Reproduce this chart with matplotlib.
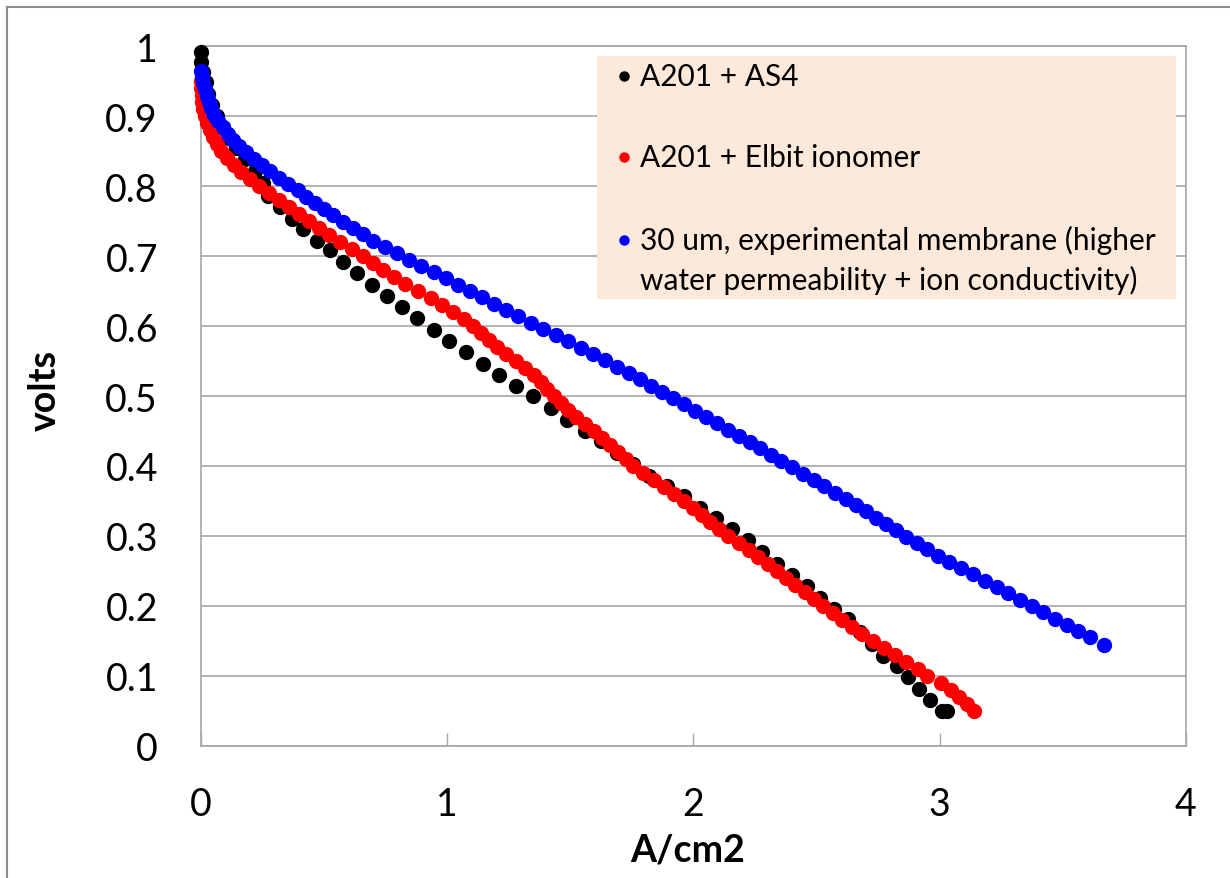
import matplotlib
matplotlib.use('Agg')
import matplotlib.pyplot as plt
from matplotlib.lines import Line2D
from matplotlib.patches import Rectangle

plt.rcParams['font.family'] = ['Lato', 'DejaVu Sans']

# polarisation curves: current density (A/cm2) and cell voltage (V)
as4_i = [0.000, 0.000, 0.010, 0.020, 0.030, 0.045, 0.065, 0.088, 0.113, 0.143,
         0.179, 0.220, 0.250, 0.273, 0.321, 0.368, 0.416, 0.470, 0.524, 0.578,
         0.632, 0.693, 0.754, 0.818, 0.879, 0.946, 1.008, 1.076, 1.144, 1.211,
         1.279, 1.347, 1.420, 1.488, 1.559, 1.623, 1.688, 1.756, 1.821, 1.891,
         1.961, 2.026, 2.093, 2.155, 2.220, 2.280, 2.340, 2.401, 2.460, 2.514,
         2.571, 2.629, 2.676, 2.724, 2.771, 2.825, 2.872, 2.917, 2.960, 3.008,
         3.028]
as4_v = [0.992, 0.977, 0.963, 0.948, 0.932, 0.916, 0.900, 0.885, 0.869, 0.854,
         0.839, 0.822, 0.804, 0.786, 0.770, 0.753, 0.738, 0.722, 0.708, 0.691,
         0.676, 0.659, 0.643, 0.627, 0.612, 0.594, 0.578, 0.563, 0.546, 0.530,
         0.515, 0.500, 0.483, 0.466, 0.450, 0.436, 0.419, 0.403, 0.386, 0.371,
         0.357, 0.340, 0.325, 0.310, 0.294, 0.277, 0.260, 0.244, 0.228, 0.212,
         0.196, 0.181, 0.163, 0.146, 0.129, 0.114, 0.098, 0.082, 0.066, 0.050,
         0.050]

elbit_v = [0.95, 0.94, 0.93, 0.92, 0.91, 0.90, 0.89, 0.88, 0.87, 0.86,
           0.85, 0.84, 0.83, 0.82, 0.81, 0.80, 0.79, 0.78, 0.77, 0.76,
           0.75, 0.74, 0.73, 0.72, 0.71, 0.70, 0.69, 0.68, 0.67, 0.66,
           0.65, 0.64, 0.63, 0.62, 0.61, 0.60, 0.59, 0.58, 0.57, 0.56,
           0.55, 0.54, 0.53, 0.52, 0.51, 0.50, 0.49, 0.48, 0.47, 0.46,
           0.45, 0.44, 0.43, 0.42, 0.41, 0.40, 0.39, 0.38, 0.37, 0.36,
           0.35, 0.34, 0.33, 0.32, 0.31, 0.30, 0.29, 0.28, 0.27, 0.26,
           0.25, 0.24, 0.23, 0.22, 0.21, 0.20, 0.19, 0.18, 0.17, 0.16,
           0.15, 0.14, 0.13, 0.12, 0.11, 0.10, 0.09, 0.08, 0.07, 0.06,
           0.05]
elbit_i = [0.000, 0.001, 0.003, 0.005, 0.009, 0.015, 0.026, 0.036, 0.047, 0.064,
           0.083, 0.105, 0.134, 0.162, 0.198, 0.235, 0.276, 0.318, 0.358, 0.399,
           0.440, 0.480, 0.520, 0.565, 0.612, 0.656, 0.699, 0.741, 0.783, 0.829,
           0.881, 0.933, 0.979, 1.025, 1.070, 1.103, 1.137, 1.170, 1.204, 1.240,
           1.278, 1.315, 1.352, 1.379, 1.406, 1.433, 1.461, 1.489, 1.524, 1.560,
           1.595, 1.629, 1.661, 1.693, 1.724, 1.756, 1.797, 1.838, 1.879, 1.919,
           1.960, 2.000, 2.035, 2.069, 2.104, 2.142, 2.183, 2.224, 2.264, 2.302,
           2.339, 2.377, 2.414, 2.452, 2.489, 2.527, 2.566, 2.605, 2.644, 2.685,
           2.728, 2.772, 2.817, 2.863, 2.910, 2.950, 3.005, 3.045, 3.080, 3.110,
           3.140]

exp_v = [0.965, 0.956, 0.947, 0.938, 0.929, 0.920, 0.911, 0.902, 0.893, 0.884,
         0.875, 0.866, 0.857, 0.848, 0.839, 0.830, 0.821, 0.812, 0.803, 0.794,
         0.785, 0.776, 0.767, 0.758, 0.749, 0.740, 0.731, 0.722, 0.713, 0.704,
         0.695, 0.686, 0.677, 0.668, 0.659, 0.650, 0.641, 0.632, 0.623, 0.614,
         0.605, 0.596, 0.587, 0.578, 0.569, 0.560, 0.551, 0.542, 0.533, 0.524,
         0.515, 0.506, 0.497, 0.488, 0.479, 0.470, 0.461, 0.452, 0.443, 0.434,
         0.425, 0.416, 0.407, 0.398, 0.389, 0.380, 0.371, 0.362, 0.353, 0.344,
         0.335, 0.326, 0.317, 0.308, 0.299, 0.290, 0.281, 0.272, 0.263, 0.254,
         0.245, 0.236, 0.227, 0.218, 0.209, 0.200, 0.191, 0.182, 0.173, 0.164,
         0.155, 0.144]
exp_i = [0.000, 0.004, 0.009, 0.017, 0.025, 0.033, 0.042, 0.053, 0.070, 0.089,
         0.108, 0.128, 0.156, 0.184, 0.215, 0.247, 0.280, 0.317, 0.355, 0.392,
         0.428, 0.464, 0.500, 0.536, 0.577, 0.618, 0.659, 0.700, 0.748, 0.796,
         0.845, 0.894, 0.945, 0.995, 1.043, 1.092, 1.140, 1.189, 1.239, 1.289,
         1.339, 1.389, 1.440, 1.491, 1.543, 1.594, 1.642, 1.689, 1.737, 1.784,
         1.829, 1.873, 1.917, 1.961, 2.005, 2.050, 2.095, 2.140, 2.185, 2.229,
         2.271, 2.314, 2.357, 2.400, 2.444, 2.488, 2.532, 2.576, 2.618, 2.659,
         2.700, 2.741, 2.782, 2.823, 2.865, 2.907, 2.949, 2.991, 3.038, 3.086,
         3.135, 3.184, 3.232, 3.279, 3.326, 3.374, 3.421, 3.468, 3.515, 3.562,
         3.610, 3.667]

series_labels = ['A201 + AS4', 'A201 + Elbit ionomer',
                 '30 um, experimental membrane (higher',
                 'water permeability + ion conductivity)']
series_colors = ['#000000', '#ff0000', '#0000ff']

x_ticks = [0, 1, 2, 3, 4]
y_ticks = [0, 0.1, 0.2, 0.3, 0.4, 0.5, 0.6, 0.7, 0.8, 0.9, 1]
y_ticklabels = ['0', '0.1', '0.2', '0.3', '0.4', '0.5', '0.6', '0.7', '0.8', '0.9', '1']

grey = '#a6a6a6'
dot = 10

fig = plt.figure(figsize=(12.3, 8.79), dpi=100)
ax = fig.add_axes([0.1634, 0.1502, 0.8008, 0.7963])

ax.plot(as4_i, as4_v, 'o', ms=dot, color=series_colors[0], mec=series_colors[0], ls='none', zorder=3, clip_on=False)
ax.plot(elbit_i, elbit_v, 'o', ms=dot, color=series_colors[1], mec=series_colors[1], ls='none', zorder=4, clip_on=False)
ax.plot(exp_i, exp_v, 'o', ms=dot, color=series_colors[2], mec=series_colors[2], ls='none', zorder=5, clip_on=False)

ax.set_xlim(0, 4)
ax.set_ylim(0, 1)
ax.set_xticks(x_ticks)
ax.set_xticklabels([str(t) for t in x_ticks])
ax.set_yticks(y_ticks)
ax.set_yticklabels(y_ticklabels)
ax.yaxis.grid(True, color=grey, lw=1.2)
ax.set_axisbelow(True)
for s in ax.spines.values():
    s.set_color(grey)
    s.set_linewidth(1.2)

ax.tick_params(axis='x', direction='in', length=9.5, width=1, color=grey,
               labelsize=27, pad=29)
ax.tick_params(axis='y', length=0, labelsize=27, pad=31)

fig.text(45 / 1230, 1 - 390 / 879, 'volts', rotation=90, ha='center', va='center',
         fontsize=27, fontweight='bold')
fig.text(688 / 1230, 1 - 862 / 879, 'A/cm2', ha='center', va='baseline',
         fontsize=27, fontweight='bold')

# legend box drawn by hand so the wrapped label keeps its marker on the first line
ax.add_patch(Rectangle((0.402, 0.639), 0.588, 0.347, transform=ax.transAxes,
                       facecolor='#fde9d9', edgecolor='none', zorder=6, clip_on=False))
rows = [0.957, 0.841, 0.723]
for lbl, col, yy in zip(series_labels[:3], series_colors, rows):
    ax.add_line(Line2D([0.4294], [yy], marker='o', ms=6.5, color=col, ls='none',
                       transform=ax.transAxes, zorder=7, clip_on=False))
    ax.text(0.4457, yy, lbl, transform=ax.transAxes, ha='left', va='center',
            fontsize=21.5, zorder=7)
ax.text(0.4457, 0.666, series_labels[3], transform=ax.transAxes, ha='left',
        va='center', fontsize=21.5, zorder=7)

# chart frame
fig.add_artist(Line2D([7 / 1230, 7 / 1230], [0, 1 - 8 / 879], color='#8c8c8c', lw=1.5,
                      transform=fig.transFigure))
fig.add_artist(Line2D([7 / 1230, 1], [1 - 8 / 879, 1 - 8 / 879], color='#8c8c8c', lw=1.5,
                      transform=fig.transFigure))

fig.savefig('out.png', dpi=100)
